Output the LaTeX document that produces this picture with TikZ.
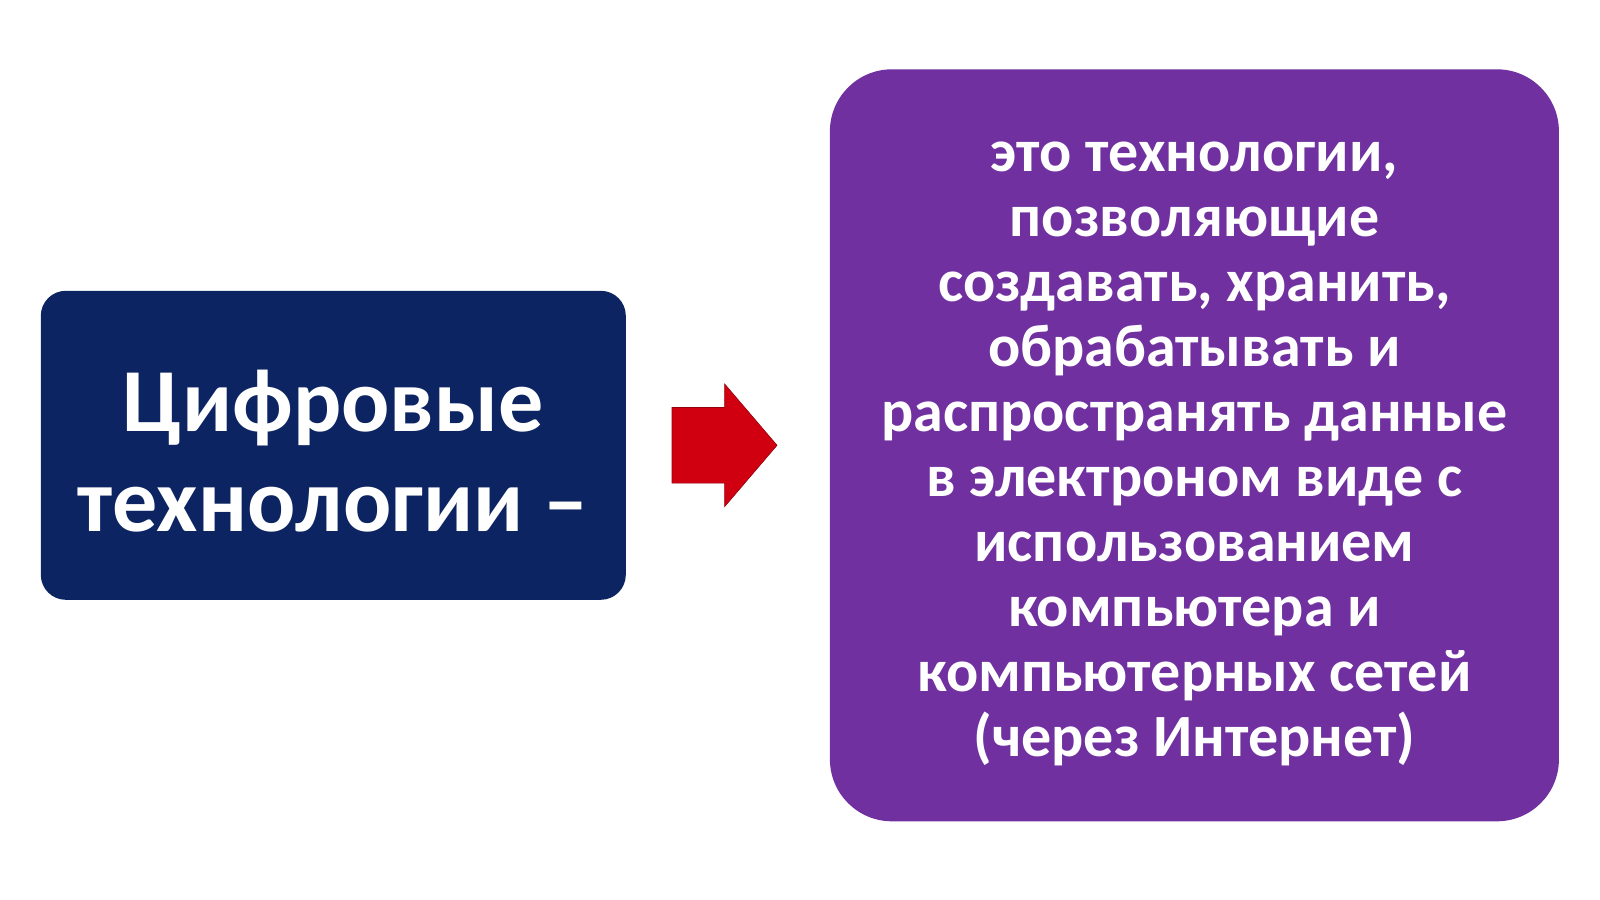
\documentclass[tikz,border=0pt]{standalone}
\usepackage{fontspec}
\setmainfont{Carlito}
\usetikzlibrary{
    positioning,    % relative placement of the boxes
    shapes.arrows   % the block arrow between them
}
\definecolor{termblue}{HTML}{0D2462}
\definecolor{defpurple}{HTML}{7030A0}
\definecolor{arrowred}{HTML}{D00010}
\tikzset{
    term box/.style={rectangle, rounded corners=25pt, fill=termblue,
        inner sep=0pt},
    term text/.style={text=white, align=center, inner sep=0pt,
        font=\bfseries\fontsize{90}{100}\selectfont},
    def box/.style={rectangle, rounded corners=62pt, fill=defpurple,
        inner sep=0pt},
    def text/.style={text=white, align=center, inner sep=0pt,
        font=\bfseries\fontsize{60}{65}\selectfont},
    block arrow/.style={single arrow, fill=arrowred, draw=arrowred!70!black,
        line width=0.6pt, inner xsep=0pt, inner ysep=37.5pt,
        single arrow head extend=23.5pt, single arrow tip angle=99,
        minimum height=105pt, minimum width=122pt}
}

\begin{document}
\begin{tikzpicture}[x=1pt, y=-1pt]
        \useasboundingbox (0,0) rectangle (1600,899);
        % left box: the term
        \node [term box, minimum width=585pt, minimum height=309pt] (term) at (333.3,445.3) {};
        \node [term text] (termtext) at ([yshift=-6pt]term.center) {Цифровые\\технологии –};
        % arrow
        \node [block arrow, right=45.7pt of term] (arrow) {};
        % right box: the definition
        \node [def box, minimum width=729pt, minimum height=752pt, right=52.3pt of arrow] (def) {};
        \node [def text] (deftext) at ([yshift=-9pt]def.center)
            {это технологии,\\позволяющие\\создавать, хранить,\\обрабатывать и\\
             распространять данные\\в электроном виде с\\использованием\\
             компьютера и\\компьютерных сетей\\(через Интернет)};
\end{tikzpicture}
\end{document}
